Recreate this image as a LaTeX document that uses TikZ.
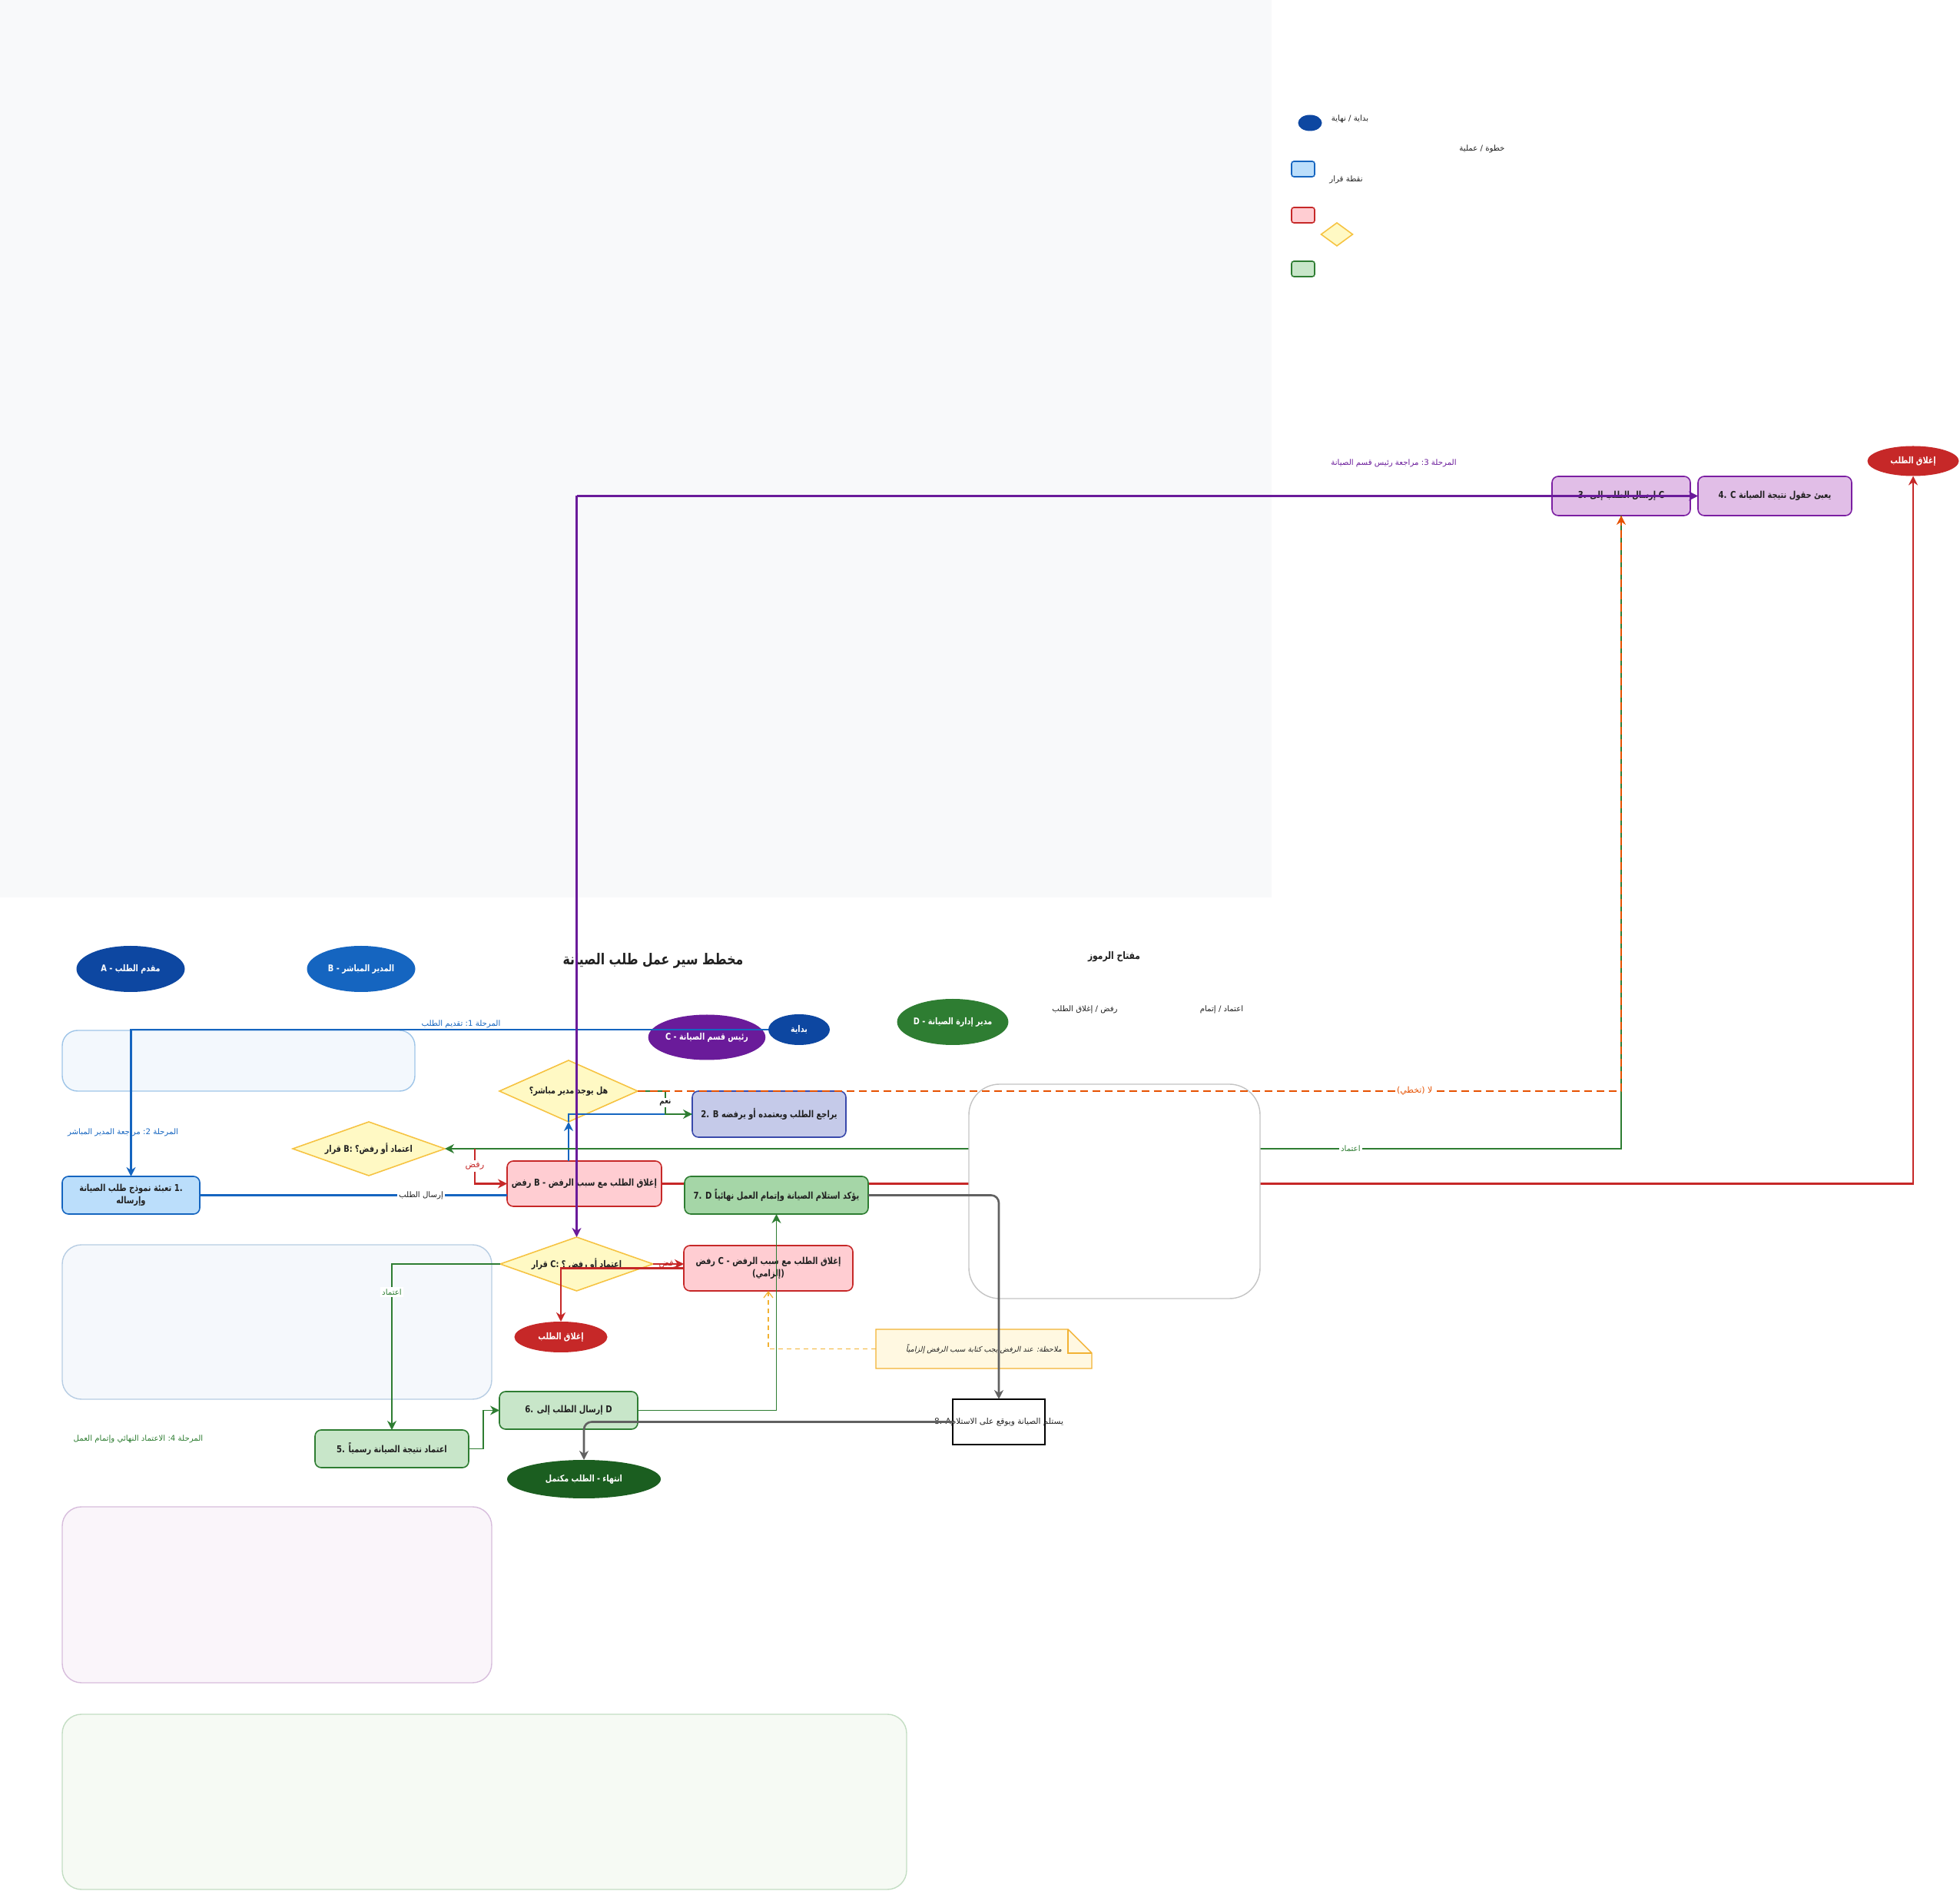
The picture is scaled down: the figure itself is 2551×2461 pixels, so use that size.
\documentclass[tikz,border=0pt]{standalone}
\usepackage{fontspec}
\setmainfont[BoldFeatures={FakeStretch=0.82}]{DejaVu Sans}
\newfontfamily\arfont[Script=Arabic,BoldFeatures={FakeStretch=0.8}]{DejaVu Sans}
\newfontfamily\arfontsl[Script=Arabic,FakeSlant=0.2]{DejaVu Sans}
\TeXXeTstate=1
\usetikzlibrary{shapes.geometric,arrows.meta,calc}
\pgfdeclarelayer{bg}
\pgfdeclarelayer{mid}
\pgfsetlayers{bg,mid,main}
\newcommand\AR[1]{{\arfont\beginR #1\endR}}
\newcommand\ARsl[1]{{\arfontsl\beginR #1\endR}}
\definecolor{bgpanel}{HTML}{F8F9FA}
\definecolor{dblue}{HTML}{0D47A1}
\definecolor{mblue}{HTML}{1565C0}
\definecolor{purp}{HTML}{6A1B9A}
\definecolor{purb}{HTML}{7B1FA2}
\definecolor{dgreen}{HTML}{2E7D32}
\definecolor{ddgreen}{HTML}{1B5E20}
\definecolor{dred}{HTML}{C62828}
\definecolor{bfill}{HTML}{BBDEFB}
\definecolor{ifill}{HTML}{C5CAE9}
\definecolor{idraw}{HTML}{3949AB}
\definecolor{pufill}{HTML}{E1BEE7}
\definecolor{pkfill}{HTML}{FFCDD2}
\definecolor{gfill}{HTML}{C8E6C9}
\definecolor{gtwofill}{HTML}{A5D6A7}
\definecolor{dfill}{HTML}{FFF9C4}
\definecolor{ddraw}{HTML}{F6C342}
\definecolor{orng}{HTML}{E65100}
\definecolor{gryl}{HTML}{616161}
\definecolor{nfill}{HTML}{FFF8E1}
\definecolor{ndraw}{HTML}{F2B233}
\definecolor{txt}{HTML}{212121}
\definecolor{rbord}{HTML}{C4C4C4}
\definecolor{lonefill}{HTML}{F3F8FD}
\definecolor{lonedraw}{HTML}{9FC5E8}
\definecolor{ltwofill}{HTML}{F5F8FC}
\definecolor{ltwodraw}{HTML}{B7CDE3}
\definecolor{lthreefill}{HTML}{FAF5FA}
\definecolor{lthreedraw}{HTML}{D7BDDC}
\definecolor{lfourfill}{HTML}{F6FAF4}
\definecolor{lfourdraw}{HTML}{C3DDC3}
\begin{document}
\begin{tikzpicture}[x=0.1mm,y=-0.1mm,
  every node/.style={inner sep=0pt,outer sep=0pt},
  ell/.style={ellipse,text=white,font=\bfseries\fontsize{3.4}{4.2}\selectfont},
  stepbox/.style={rectangle,rounded corners=0.8mm,draw,line width=0.45pt,align=center,text=txt,font=\bfseries\fontsize{3.5}{4.6}\selectfont},
  decis/.style={diamond,aspect=2.5,draw=ddraw,fill=dfill,line width=0.45pt,text=txt,font=\bfseries\fontsize{3.4}{4.2}\selectfont},
  lgtxt/.style={text=txt,font=\fontsize{2.9}{3.5}\selectfont},
  phaselbl/.style={font=\fontsize{2.9}{3.5}\selectfont},
  elab/.style={fill=white,inner sep=0.25mm,font=\fontsize{2.9}{3.5}\selectfont},
  arr/.style={-{Stealth[length=1.2mm,width=1.2mm]}},
  bluec/.style={draw=mblue,line width=0.6pt},
  greenc/.style={draw=dgreen,line width=0.55pt},
  redc/.style={draw=dred,line width=0.6pt},
  orc/.style={draw=orng,line width=0.55pt,dash pattern=on 1mm off 0.6mm},
  grayc/.style={draw=gryl,line width=0.75pt,rounded corners=1mm},
  purc/.style={draw=purp,line width=0.65pt},
  notec/.style={draw=ndraw,line width=0.35pt,dash pattern=on 0.6mm off 0.5mm,-{Straight Barb[length=0.8mm,width=1.2mm]}},
  lanebox/.style={line width=0.4pt}
]
\useasboundingbox (0,0) rectangle (2551,2461);
\begin{pgfonlayer}{bg}
\fill[bgpanel] (0,0) rectangle (1655,1168);
\draw[lanebox,fill=lonefill,draw=lonedraw,rounded corners=2mm] (81,1341) rectangle (540,1420);
\draw[lanebox,fill=ltwofill,draw=ltwodraw,rounded corners=2.5mm] (81,1620) rectangle (640,1821);
\draw[lanebox,fill=lthreefill,draw=lthreedraw,rounded corners=2.5mm] (81,1961) rectangle (640,2190);
\draw[lanebox,fill=lfourfill,draw=lfourdraw,rounded corners=2.5mm] (81,2231) rectangle (1180,2459);
\end{pgfonlayer}

% legend
\node[ell,fill=dblue,minimum width=3.1mm,minimum height=2.1mm] (lgE) at (1705,160) {};
\node[lgtxt] (lgTa) at (1757,155) {\AR{بداية / نهاية}};
\node[lgtxt] (lgTb) at (1929,194) {\AR{خطوة / عملية}};
\node[stepbox,fill=bfill,draw=mblue,minimum width=3mm,minimum height=2mm,rounded corners=0.3mm] (lgBa) at (1696,220) {};
\node[lgtxt] (lgTc) at (1752,234) {\AR{نقطة قرار}};
\node[stepbox,fill=pkfill,draw=dred,minimum width=3mm,minimum height=2mm,rounded corners=0.3mm] (lgBb) at (1696,280) {};
\node[decis,minimum width=4.1mm,minimum height=3mm] (lgD) at (1740,305) {};
\node[stepbox,fill=gfill,draw=dgreen,minimum width=3mm,minimum height=2mm,rounded corners=0.3mm] (lgBc) at (1696,350) {};

% phase 3 area
\node[phaselbl,text=purp] (phc) at (1814,603) {\AR{مراجعة رئيس قسم الصيانة} :3 \AR{المرحلة}};
\node[stepbox,fill=pufill,draw=purb,minimum width=18mm,minimum height=5.1mm] (s3) at (2110,645.5) {3. \AR{إرسال الطلب إلى} C};
\node[stepbox,fill=pufill,draw=purb,minimum width=20mm,minimum height=5.1mm] (s4) at (2310,645.5) {4. C \AR{يعبئ حقول نتيجة الصيانة}};
\node[ell,fill=dred,minimum width=11.9mm,minimum height=3.9mm] (closeA) at (2490,600) {\AR{إغلاق الطلب}};

% actors and titles
\node[ell,fill=dblue,minimum width=14.1mm,minimum height=6mm] (actA) at (170,1261) {A - \AR{مقدم الطلب}};
\node[ell,fill=mblue,minimum width=14.1mm,minimum height=6mm] (actB) at (470,1261) {B - \AR{المدير المباشر}};
\node[text=txt,font=\bfseries\fontsize{5.6}{6.8}\selectfont] (title) at (850,1250) {\AR{مخطط سير عمل طلب الصيانة}};
\node[text=txt,font=\bfseries\fontsize{3.8}{4.6}\selectfont] (keyT) at (1450,1245) {\AR{مفتاح الرموز}};
\node[lgtxt] (keyR) at (1412,1314) {\AR{رفض / إغلاق الطلب}};
\node[lgtxt] (keyG) at (1590,1314) {\AR{اعتماد / إتمام}};
\node[ell,fill=purp,minimum width=13.8mm,minimum height=5.9mm] (actC) at (920,1350) {C - \AR{رئيس قسم الصيانة}};
\node[ell,fill=dblue,minimum width=8mm,minimum height=4mm] (start) at (1040,1340) {\AR{بداية}};
\node[ell,fill=dgreen,minimum width=14mm,minimum height=6mm] (actD) at (1240,1330) {D - \AR{مدير إدارة الصيانة}};

% phase labels
\node[phaselbl,text=mblue] (pha) at (600,1333) {\AR{تقديم الطلب} :1 \AR{المرحلة}};
\node[phaselbl,text=mblue] (phb) at (160,1474) {\AR{مراجعة المدير المباشر} :2 \AR{المرحلة}};
\node[phaselbl,text=dgreen] (phd) at (180,1873) {\AR{الاعتماد النهائي وإتمام العمل} :4 \AR{المرحلة}};

% process nodes
\node[stepbox,fill=bfill,draw=mblue,minimum width=17.9mm,minimum height=4.9mm] (s1) at (170.5,1555.5) {\AR{تعبئة نموذج طلب الصيانة} 1.\\\AR{وإرساله}};
\node[decis,minimum width=18mm,minimum height=8mm] (d1) at (740,1420) {\AR{هل يوجد مدير مباشر؟}};
\node[stepbox,fill=ifill,draw=idraw,minimum width=20mm,minimum height=6mm] (s2) at (1001,1450) {2. B \AR{يراجع الطلب ويعتمده أو يرفضه}};
\node[decis,minimum width=19.8mm,minimum height=7mm] (dB) at (480,1495) {\AR{قرار} B: \AR{اعتماد أو رفض؟}};
\node[stepbox,fill=pkfill,draw=dred,minimum width=20.1mm,minimum height=5.9mm] (cB) at (760.5,1540.5) {\AR{رفض} B - \AR{إغلاق الطلب مع سبب الرفض}};
\node[stepbox,fill=gtwofill,draw=dgreen,minimum width=23.9mm,minimum height=4.9mm] (s7) at (1010.5,1555.5) {7. D \AR{يؤكد استلام الصيانة وإتمام العمل نهائياً}};
\node[decis,minimum width=19.9mm,minimum height=7mm] (dC) at (750.5,1645) {\AR{قرار} C: \AR{اعتماد أو رفض ؟}};
\node[stepbox,fill=pkfill,draw=dred,minimum width=22mm,minimum height=5.9mm] (cC) at (1000,1650.5) {\AR{رفض} C - \AR{إغلاق الطلب مع سبب الرفض}\\(\AR{إلزامي})};
\node[ell,fill=dred,minimum width=12.1mm,minimum height=4mm] (closeE) at (730,1740) {\AR{إغلاق الطلب}};
\filldraw[fill=nfill,draw=ndraw,line width=0.4pt] (1140,1730) -- (1390,1730) -- (1421,1761) -- (1421,1781) -- (1140,1781) -- cycle;
\draw[draw=ndraw,line width=0.4pt] (1390,1730) -- (1390,1761) -- (1421,1761);
\node[text=txt,font=\fontsize{2.7}{3.3}\selectfont,minimum width=28.1mm,minimum height=5.1mm] (note) at (1280.5,1755.5) {\ARsl{ملاحظة: عند الرفض يجب كتابة سبب الرفض إلزامياً}};
\node[stepbox,draw=black,fill=white,sharp corners,line width=0.35pt,font=\fontsize{3.0}{3.8}\selectfont,minimum width=12mm,minimum height=5.9mm] (s8) at (1300,1850.5) {\makebox[0pt]{8. A\AR{يستلم الصيانة ويوقع على الاستلام}}};
\node[stepbox,fill=gfill,draw=dgreen,minimum width=18mm,minimum height=4.9mm] (s6) at (740,1835.5) {6. \AR{إرسال الطلب إلى} D};
\node[stepbox,fill=gfill,draw=dgreen,minimum width=20mm,minimum height=4.9mm] (s5) at (510,1885.5) {5. \AR{اعتماد نتيجة الصيانة رسمياً}};
\node[ell,fill=ddgreen,minimum width=20mm,minimum height=5mm] (finish) at (760,1925) {\AR{انتهاء - الطلب مكتمل}};

% long red connector, under the nodes
\begin{pgfonlayer}{mid}
\draw[redc,arr] (cB.east) -- (cB.east -| closeA.south) -- (closeA.south);
\end{pgfonlayer}

% connectors
\draw[bluec,arr] (start.west) -- (start.west -| s1.north) -- (s1.north);
\draw[bluec] (s1.east) -- (s1.east -| cB.west) node[elab,pos=0.72,text=txt] (lbSend) {\AR{إرسال الطلب}};
\draw[bluec,arr] (d1.south |- cB.north) -- (d1.south);
\draw[bluec] (d1.south) -- (d1.south |- s2.west) -- (s2.west);
\draw[greenc,arr] (d1.east) -- ++(36,0) coordinate (yesA) -- (yesA |- s2.west) node[elab,midway,text=txt,font=\bfseries\fontsize{3.1}{3.7}\selectfont] (lbYes) {\AR{نعم}} -- (s2.west);
\draw[greenc,arr] (s3.south) -- (s3.south |- dB.east) -- (dB.east) node[elab,pos=0.23,text=dgreen] (lbApprB) {\AR{اعتماد}};
\draw[redc,arr] ($(dB.east)+(39,0)$) coordinate (rbA) -- (rbA |- cB.west) node[elab,midway,text=dred,font=\fontsize{3.2}{3.8}\selectfont] (lbRejB) {\AR{رفض}} -- (cB.west);
\draw[greenc,arr] (dC.west) -- (dC.west -| s5.north) -- (s5.north) node[elab,pos=0.17,text=dgreen] (lbApprC) {\AR{اعتماد}};
\draw[redc,arr] (dC.east) -- (dC.east -| cC.west) node[midway,text=dred,font=\fontsize{3.2}{3.8}\selectfont] (lbRejC) {\AR{رفض}};
\draw[redc,arr] (cC.west) -- (cC.west -| closeE.north) -- (closeE.north);
\draw[greenc,arr] (s5.east) -- ++(19,0) coordinate (gff) -- (gff |- s6.west) -- (s6.west);
\draw[greenc,arr] (s6.east) -- (s6.east -| s7.south) -- (s7.south);

% blank rounded panel over the lines
\draw[draw=rbord,fill=white,line width=0.4pt,rounded corners=4mm] (1261,1411) rectangle (1640,1690);

\draw[orc,arr] (d1.east) -- (d1.east -| s3.south) node[elab,pos=0.79,text=orng,font=\fontsize{3.1}{3.7}\selectfont] (lbSkip) {\AR{لا (تخطي)}} -- (s3.south);
\draw[notec] (note.west) -- (note.west -| cC.south) -- (cC.south);
\draw[grayc,arr] (s7.east) -- (s7.east -| s8.north) -- (s8.north);
\draw[grayc,arr] (s8.west) -- (s8.west -| finish.north) -- (finish.north);

% purple connectors on top
\draw[purc,arr] (dC.north |- s4.west) -- (s4.west);
\draw[purc,arr] (dC.north |- s4.west) -- (dC.north);
\end{tikzpicture}
\end{document}
